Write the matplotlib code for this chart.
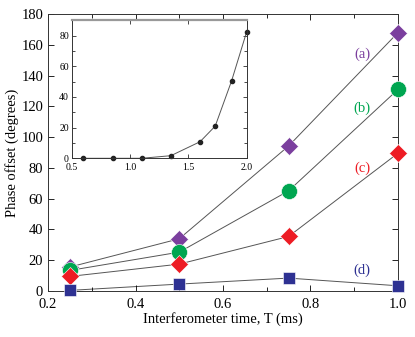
import matplotlib.pyplot as plt
from matplotlib.ticker import MultipleLocator

plt.rcParams['font.family'] = ['Liberation Serif', 'DejaVu Serif']

# main data
t = [0.25, 0.5, 0.75, 1.0]
phase_a = [15.4, 33.8, 94.2, 168.0]
phase_b = [13.2, 25.1, 65.0, 131.0]
phase_c = [9.3, 17.3, 35.3, 89.5]
phase_d = [0.2, 4.3, 8.2, 3.2]
labels = ['(a)', '(b)', '(c)', '(d)']

# inset data
t_inset = [0.6, 0.85, 1.1, 1.35, 1.6, 1.73, 1.87, 2.0]
phase_inset = [0.0, 0.0, 0.0, 1.7, 10.8, 21.0, 50.4, 82.6]

purple = '#7b3f9e'
green = '#00a651'
red = '#ed1c24'
navy = '#2e3192'
line_col = '#555555'

fig = plt.figure(figsize=(4.15, 3.37), dpi=100)
ax = fig.add_axes([0.1157, 0.1374, 0.8433, 0.8206])

series = [
    (phase_a, 'D', purple, 9.3),
    (phase_b, 'o', green, 11.5),
    (phase_c, 'D', red, 9.3),
    (phase_d, 's', navy, 8.6),
]
for vals, m, c, ms in series:
    ax.plot(t, vals, '-', color=line_col, lw=0.7, zorder=1)
    ax.plot(t, vals, m, color=c, ms=ms, mec='white', mew=0.4, zorder=3,
            clip_on=False)

label_y = [154, 119, 80, 13]
label_cols = [purple, green, red, navy]
for lab, y, c in zip(labels, label_y, label_cols):
    ax.text(0.918, y, lab, color=c, fontsize=10.5, ha='center', va='center')

ax.set_xlim(0.2, 1.0)
ax.set_ylim(0, 180)
ax.xaxis.set_major_locator(MultipleLocator(0.2))
ax.xaxis.set_minor_locator(MultipleLocator(0.1))
ax.yaxis.set_major_locator(MultipleLocator(20))
ax.tick_params(which='both', direction='in', top=True, right=True, labelsize=10.5)
ax.tick_params(which='major', length=4, width=0.6)
ax.tick_params(which='minor', length=3, width=0.6)
ax.tick_params(axis='x', pad=5)
for s in ax.spines.values():
    s.set_linewidth(0.7)
    s.set_color('#333333')
ax.set_xlabel('Interferometer time, T (ms)', fontsize=10.5, labelpad=1)
ax.set_ylabel('Phase offset (degrees)', fontsize=10.5, labelpad=2)

# inset
ins = fig.add_axes([0.1728, 0.5303, 0.4217, 0.4095])
ins.plot(t_inset, phase_inset, '-', color=line_col, lw=0.7)
ins.plot(t_inset, phase_inset, 'o', color='#222222', ms=3, clip_on=False)
ins.set_xlim(0.5, 2.0)
ins.set_ylim(0, 90)
ins.xaxis.set_major_locator(MultipleLocator(0.5))
ins.yaxis.set_major_locator(MultipleLocator(20))
ins.yaxis.set_minor_locator(MultipleLocator(10))
ins.tick_params(which='both', direction='in', top=True, right=True, labelsize=7,
                pad=2)
ins.tick_params(axis='x', pad=3.5)
ins.tick_params(which='major', length=3, width=0.5)
ins.tick_params(which='minor', length=2, width=0.5)
for s in ins.spines.values():
    s.set_linewidth(0.7)
    s.set_color('#333333')
ins.spines['top'].set_linewidth(1.6)
ins.spines['top'].set_color('#999999')

fig.savefig('out.png', dpi=100)
